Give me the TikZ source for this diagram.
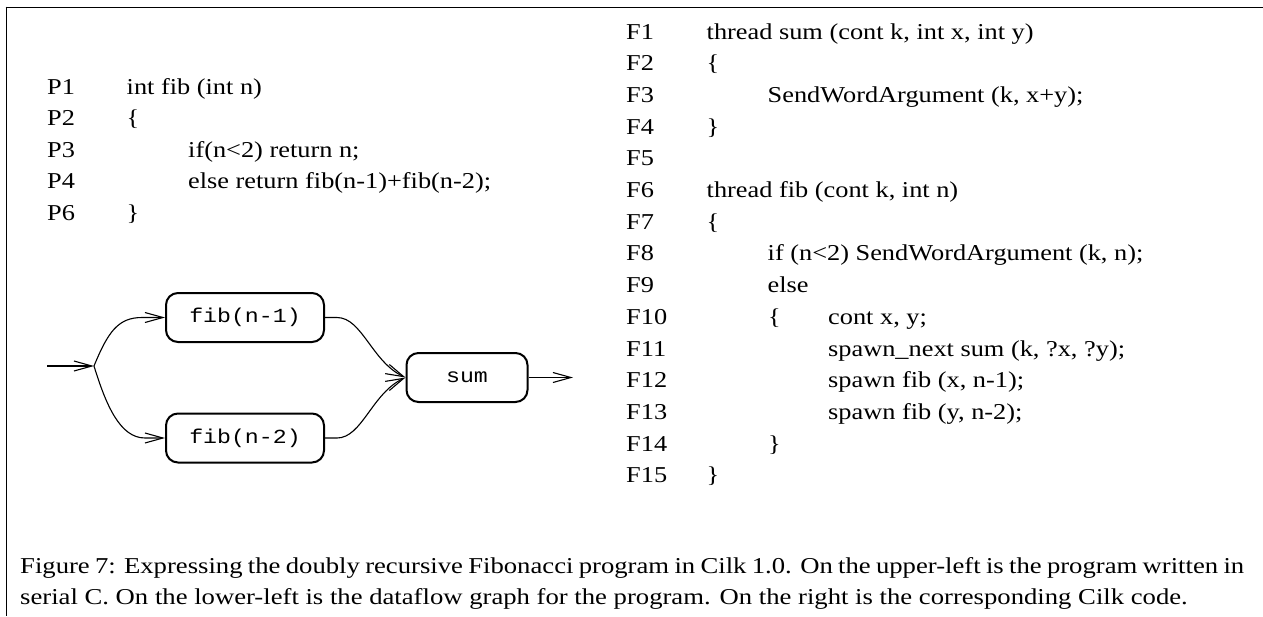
\documentclass[tikz,border=0pt]{standalone}
\usepackage{fontspec}
\setmainfont{Liberation Serif}[FakeStretch=1.16]
\newfontfamily\capfont{Liberation Serif}[FakeStretch=1.175]
\newfontfamily\boxfont{Liberation Mono}[FakeStretch=1.16]
\usetikzlibrary{arrows.meta}
\begin{document}
\begin{tikzpicture}[x=1pt,y=-1pt,
  codeline/.style={anchor=base west, inner sep=0pt, font=\fontsize{22.7}{30}\selectfont},
  capline/.style={anchor=base west, inner sep=0pt, font=\capfont\fontsize{22.7}{30}\selectfont},
  procbox/.style={draw, line width=2pt, rounded corners=12pt, minimum height=49pt, inner sep=0pt, font=\boxfont\fontsize{20}{24}\selectfont},
  conn/.style={line width=1.1pt, -{Straight Barb[length=18pt,width=10pt]}},
  frameline/.style={line width=1.8pt}]
\useasboundingbox (0,0) rectangle (1263,616);
% frame
\draw[frameline] (5.7,7.5) -- (1263,7.5);
\draw[line width=1.2pt] (6.3,6.6) -- (6.3,616);
% left code
\node[codeline] (p1) at (47,94.5) {P1};
\node[codeline] (p2) at (47,125.9) {P2};
\node[codeline] (p3) at (47,157.3) {P3};
\node[codeline] (p4) at (47,188.7) {P4};
\node[codeline] (p6) at (47,220.1) {P6};
\node[codeline] (c1) at (126.5,94.5) {int fib (int n)};
\node[codeline] (c2) at (126.5,125.9) {\{};
\node[codeline] (c3) at (188,157.3) {if(n<2) return n;};
\node[codeline] (c4) at (188,188.7) {else return fib(n-1)+fib(n-2);};
\node[codeline] (c6) at (126.5,220.1) {\}};
% right code
\foreach \i in {1,...,15}{
  \node[codeline] (f\i) at (626,{39+(\i-1)*31.7}) {F\i};
}
\node[codeline] (d1) at (706.5,39) {thread sum (cont k, int x, int y)};
\node[codeline] (d2) at (706.5,70.7) {\{};
\node[codeline] (d3) at (767.5,102.4) {SendWordArgument (k, x+y);};
\node[codeline] (d4) at (706.5,134.1) {\}};
\node[codeline] (d6) at (706.5,197.5) {thread fib (cont k, int n)};
\node[codeline] (d7) at (706.5,229.2) {\{};
\node[codeline] (d8) at (767.5,260.9) {if (n<2) SendWordArgument (k, n);};
\node[codeline] (d9) at (767.5,292.6) {else};
\node[codeline] (d10a) at (768,324.3) {\{};
\node[codeline] (d10) at (828,324.3) {cont x, y;};
\node[codeline] (d11) at (828,356) {spawn\_next sum (k, ?x, ?y);};
\node[codeline] (d12) at (828,387.7) {spawn fib (x, n-1);};
\node[codeline] (d13) at (828,419.4) {spawn fib (y, n-2);};
\node[codeline] (d14) at (768,451.1) {\}};
\node[codeline] (d15) at (706.5,482.8) {\}};
% graph
\node[procbox, minimum width=158pt] (fa) at (245,317.5) {fib(n-1)};
\node[procbox, minimum width=158pt] (fb) at (245,438) {fib(n-2)};
\node[procbox, minimum width=121pt] (sm) at (467,377.5) {sum};
\coordinate (in) at (47,366);
\coordinate (br) at (94,366);
\coordinate (out) at (573,377.5);
\draw[conn] (in) -- (br);
\draw[conn] (br) .. controls (108,332) and (118,317.5) .. (142,317.5) -- (fa.west);
\draw[conn] (br) .. controls (106,405) and (120,438) .. (145,438) -- (fb.west);
\draw[conn] (fa.east) -- ++(12,0) .. controls (362,317.5) and (372,362) .. (sm.west);
\draw[conn] (fb.east) -- ++(12,0) .. controls (362,438) and (372,393) .. (sm.west);
\draw[conn] (sm.east) -- (out);
% caption
\node[capline] (cap1) at (20,573) {\makebox[1224pt][s]{Figure 7: Expressing the doubly recursive Fibonacci program in Cilk 1.0. On the upper-left is the program written in}};
\node[capline] (cap2) at (20,604) {serial C. On the lower-left is the dataflow graph for the program. On the right is the corresponding Cilk code.};
\end{tikzpicture}
\end{document}
